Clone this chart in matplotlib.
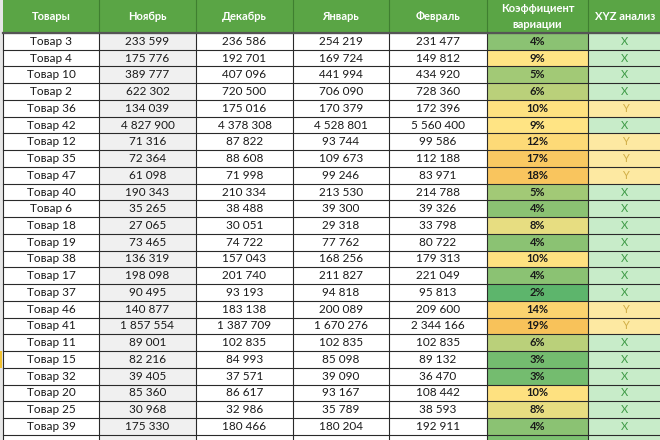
import matplotlib.pyplot as plt
from matplotlib.patches import Rectangle
from matplotlib.colors import LinearSegmentedColormap, TwoSlopeNorm

# Данные таблицы
headers = ["Товары", "Ноябрь", "Декабрь", "Январь", "Февраль", "Коэффициент\nвариации", "XYZ анализ"]
products = ["Товар 3", "Товар 4", "Товар 10", "Товар 2", "Товар 36", "Товар 42", "Товар 12",
            "Товар 35", "Товар 47", "Товар 40", "Товар 6", "Товар 18", "Товар 19", "Товар 38",
            "Товар 17", "Товар 37", "Товар 46", "Товар 41", "Товар 11", "Товар 15", "Товар 32",
            "Товар 20", "Товар 25", "Товар 39"]
nov = [233599, 175776, 389777, 622302, 134039, 4827900, 71316, 72364, 61098, 190343, 35265, 27065,
       73465, 136319, 198098, 90495, 140877, 1857554, 89001, 82216, 39405, 85360, 30968, 175330]
dec = [236586, 192701, 407096, 720500, 175016, 4378308, 87822, 88608, 71998, 210334, 38488, 30051,
       74722, 157043, 201740, 93193, 183138, 1387709, 102835, 84993, 37571, 86617, 32986, 180466]
jan = [254219, 169724, 441994, 706090, 170379, 4528801, 93744, 109673, 99246, 213530, 39300, 29318,
       77762, 168256, 211827, 94818, 200089, 1670276, 102835, 85098, 39090, 93167, 35789, 180204]
feb = [231477, 149812, 434920, 728360, 172396, 5560400, 99586, 112188, 83971, 214788, 39326, 33798,
       80722, 179313, 221049, 95813, 209600, 2344166, 102835, 89132, 36470, 108442, 38593, 192911]
cv = [4, 9, 5, 6, 10, 9, 12, 17, 18, 5, 4, 8, 4, 10, 4, 2, 14, 19, 6, 3, 3, 10, 8, 4]
xyz = ["X", "X", "X", "X", "Y", "X", "Y", "Y", "Y", "X", "X", "X", "X", "X", "X", "X", "Y", "Y",
       "X", "X", "X", "X", "X", "X"]

plt.rcParams['font.family'] = ['Lato', 'DejaVu Sans']


def fmt(v):
    return f"{v:,}".replace(",", " ")


col_edges = [3, 99, 196, 293, 389, 487, 588, 662]
header_h = 33
row_h = 16.74
fs = 8.5

cmap = LinearSegmentedColormap.from_list("cv", ["#5db56c", "#ffe484", "#f8c25a"])
norm = TwoSlopeNorm(vmin=2, vcenter=9, vmax=19)

fig = plt.figure(figsize=(6.6, 4.4), dpi=100)
ax = fig.add_axes([0, 0, 1, 1])
ax.set_xlim(0, 660)
ax.set_ylim(440, 0)
ax.axis("off")

# левая полоса Excel
ax.add_patch(Rectangle((0, 0), 3, 440, color="#e6e6e6", lw=0))

# заголовок
ax.add_patch(Rectangle((3, 0), 657, header_h, color="#5aa545", lw=0))
for i, h in enumerate(headers):
    cx = (col_edges[i] + col_edges[i + 1]) / 2
    ax.text(cx, header_h / 2, h, ha="center", va="center", color="white",
            fontsize=8, fontweight="bold", linespacing=1.5)
for x in col_edges[1:-1]:
    ax.plot([x, x], [0, header_h], color="#3f7f30", lw=0.8)

# строки
n = len(products)
for r in range(n + 1):
    y0 = header_h + r * row_h
    ax.add_patch(Rectangle((col_edges[1], y0), col_edges[2] - col_edges[1], row_h, color="#f0f0f0", lw=0))
    if r < n:
        ax.add_patch(Rectangle((col_edges[5], y0), col_edges[6] - col_edges[5], row_h,
                               color=cmap(norm(cv[r])), lw=0))
        xyz_bg = "#c8ecc9" if xyz[r] == "X" else "#fde9a2"
        ax.add_patch(Rectangle((col_edges[6], y0), col_edges[7] - col_edges[6], row_h, color=xyz_bg, lw=0))
        cy = y0 + row_h / 2
        values = [products[r], fmt(nov[r]), fmt(dec[r]), fmt(jan[r]), fmt(feb[r])]
        for c, val in enumerate(values):
            cx = (col_edges[c] + col_edges[c + 1]) / 2
            ax.text(cx, cy, val, ha="center", va="center", fontsize=fs, color="#1a1a1a")
        ax.text((col_edges[5] + col_edges[6]) / 2, cy, f"{cv[r]}%", ha="center", va="center",
                fontsize=8, fontweight="bold", color="#1a1a1a")
        xyz_col = "#3d9a45" if xyz[r] == "X" else "#d0ad45"
        ax.text((col_edges[6] + col_edges[7]) / 2, cy, xyz[r], ha="center", va="center",
                fontsize=8, color=xyz_col)
    else:
        # частично видимая следующая строка
        ax.add_patch(Rectangle((col_edges[5], y0), col_edges[6] - col_edges[5], row_h,
                               color="#7cc070", lw=0))
        ax.add_patch(Rectangle((col_edges[6], y0), col_edges[7] - col_edges[6], row_h, color="#c8ecc9", lw=0))

# линии сетки
for r in range(n + 1):
    y = header_h + r * row_h
    ax.plot([col_edges[0], col_edges[-1]], [y, y], color="#2a2a2a", lw=0.8)
for x in col_edges[:-1]:
    ax.plot([x, x], [header_h, 440], color="#2a2a2a", lw=0.8)
ax.plot([col_edges[0], col_edges[-1]], [header_h, header_h], color="#555555", lw=1.6)

# отметка выделенной строки
ax.add_patch(Rectangle((0, header_h + 19 * row_h), 2, row_h, color="#f2c230", lw=0))

fig.savefig("out.png", dpi=100)
